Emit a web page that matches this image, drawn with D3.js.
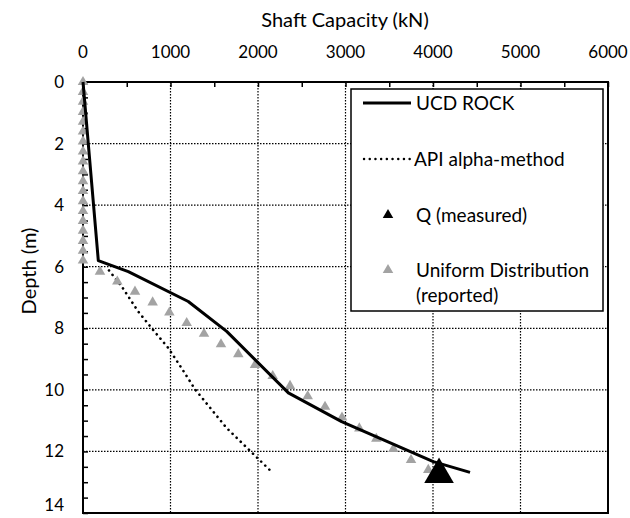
<!DOCTYPE html>
<html><head><meta charset="utf-8">
<script src="https://cdn.jsdelivr.net/npm/d3@7"></script>
<style>body{margin:0;background:#fff}svg{display:block}text{font-family:Lato,"Open Sans",sans-serif;fill:#000}</style>
</head><body><svg id="c" width="630" height="518"></svg>
<script>
// ---- data ----
const xTicks = [0, 1000, 2000, 3000, 4000, 5000, 6000];
const yTicks = [0, 2, 4, 6, 8, 10, 12, 14];
const ucdCapacity = [0, 175, 518, 1203, 1642, 2347, 2956, 4003, 4423];
const ucdDepth    = [0, 5.8, 6.16, 7.13, 8.1, 10.1, 11.03, 12.33, 12.68];
const apiCapacity = [297, 442, 632, 815, 975, 1128, 1280, 1642, 2140];
const apiDepth    = [6.12, 6.64, 7.46, 8.1, 8.64, 9.3, 9.98, 11.24, 12.62];
const uniCapacity = [0,0,0,0,0,0,0,0,0,0,0,0,0,0,0,0,0,0,0,
  194, 392, 594, 796, 987, 1185, 1383, 1577, 1775, 1966,
  2168, 2366, 2568, 2766, 2960, 3158, 3352, 3547, 3749, 3946];
const uniDepth = [0,0.32,0.64,0.97,1.29,1.61,1.93,2.26,2.58,2.9,3.22,3.54,3.87,4.19,4.51,4.83,5.16,5.48,5.8,
  6.16, 6.48, 6.81, 7.16, 7.49, 7.83, 8.18, 8.52, 8.84, 9.19,
  9.55, 9.87, 10.21, 10.55, 10.9, 11.25, 11.59, 11.92, 12.28, 12.6];
const qCapacity = [4069];
const qDepth = [12.75];
const legendLabels = ["UCD ROCK", "API alpha-method", "Q (measured)", "Uniform Distribution", "(reported)"];

// ---- chart ----
const svg = d3.select("#c");
const x = d3.scaleLinear().domain([0, 6000]).range([83, 608]);
const y = d3.scaleLinear().domain([0, 14]).range([82, 513]);

// grid
const g = svg.append("g");
g.selectAll(".vg").data(xTicks.slice(1, -1)).join("line")
  .attr("x1", d => x(d)).attr("x2", d => x(d)).attr("y1", y(0)).attr("y2", y(14))
  .attr("stroke", "#000").attr("stroke-width", 1.2).attr("stroke-dasharray", "1.5,1.5");
g.selectAll(".hg").data(yTicks.slice(1, -1)).join("line")
  .attr("y1", d => y(d)).attr("y2", d => y(d)).attr("x1", x(0)).attr("x2", x(6000))
  .attr("stroke", "#000").attr("stroke-width", 1.2).attr("stroke-dasharray", "1.5,1.5");

// axes
const xAxis = d3.axisTop(x).tickValues(d3.range(0, 6001, 500)).tickSize(-5).tickFormat("");
svg.append("g").attr("transform", `translate(0,${y(0)})`).call(xAxis)
  .call(s => s.select(".domain").remove())
  .call(s => s.selectAll("line").attr("stroke-width", 1.5));
const yAxis = d3.axisLeft(y).tickValues(d3.range(0, 14.01, 0.5)).tickSize(-5).tickFormat("");
svg.append("g").attr("transform", `translate(${x(0)},0)`).call(yAxis)
  .call(s => s.select(".domain").remove())
  .call(s => s.selectAll("line").attr("stroke-width", 1.5));

svg.append("rect").attr("x", x(0)).attr("y", y(0)).attr("width", x(6000) - x(0)).attr("height", y(14) - y(0))
  .attr("fill", "none").attr("stroke", "#000").attr("stroke-width", 2);

// tick labels
svg.selectAll(".xl").data(xTicks).join("text")
  .attr("x", d => x(d)).attr("y", 58).attr("text-anchor", "middle").attr("font-size", 17).text(d => d);
svg.selectAll(".yl").data(yTicks).join("text")
  .attr("x", 64).attr("y", d => Math.min(y(d) + 6, 511)).attr("text-anchor", "end").attr("font-size", 17).text(d => d);

svg.append("text").attr("x", 345).attr("y", 27).attr("text-anchor", "middle").attr("font-size", 20).text("Shaft Capacity (kN)");
svg.append("text").attr("transform", `translate(36,271) rotate(-90)`).attr("text-anchor", "middle").attr("font-size", 20).text("Depth (m)");

// legend box
const lg = svg.append("g");
lg.append("rect").attr("x", 351).attr("y", 89).attr("width", 252).attr("height", 222)
  .attr("fill", "#fff").attr("stroke", "#000").attr("stroke-width", 1.5);

// series
const line = d3.line().x(d => x(d[0])).y(d => y(d[1]));
const api = d3.zip(apiCapacity, apiDepth);
svg.append("path").attr("d", line(api)).attr("fill", "none").attr("stroke", "#000")
  .attr("stroke-width", 2.6).attr("stroke-linecap", "round").attr("stroke-dasharray", "0.1,5.6");

const tri = d3.symbol().type(d3.symbolTriangle);
svg.selectAll(".uni").data(d3.zip(uniCapacity, uniDepth)).join("path")
  .attr("d", tri.size(48)()).attr("transform", d => `translate(${x(d[0])},${y(d[1])})`).attr("fill", "#a3a3a3");

const ucd = d3.zip(ucdCapacity, ucdDepth);
svg.append("path").attr("d", line(ucd)).attr("fill", "none").attr("stroke", "#000")
  .attr("stroke-width", 3).attr("stroke-linejoin", "round");

svg.selectAll(".q").data(d3.zip(qCapacity, qDepth)).join("path")
  .attr("d", tri.size(380)()).attr("transform", d => `translate(${x(d[0])},${y(d[1])})`).attr("fill", "#000");

// legend entries
lg.append("line").attr("x1", 363).attr("x2", 411).attr("y1", 103).attr("y2", 103).attr("stroke", "#000").attr("stroke-width", 3);
lg.append("line").attr("x1", 364).attr("x2", 411).attr("y1", 159).attr("y2", 159).attr("stroke", "#000")
  .attr("stroke-width", 2.4).attr("stroke-linecap", "round").attr("stroke-dasharray", "0.1,5.6");
lg.append("path").attr("d", tri.size(48)()).attr("transform", "translate(388,215)").attr("fill", "#000");
lg.append("path").attr("d", tri.size(48)()).attr("transform", "translate(388,270)").attr("fill", "#a3a3a3");
const ly = [103, 159, 215, 270, 295];
lg.selectAll(".lt").data(legendLabels).join("text")
  .attr("x", (d, i) => i === 1 ? 414 : 416).attr("y", (d, i) => ly[i] + 7).attr("font-size", 19).text(d => d);
</script></body></html>
